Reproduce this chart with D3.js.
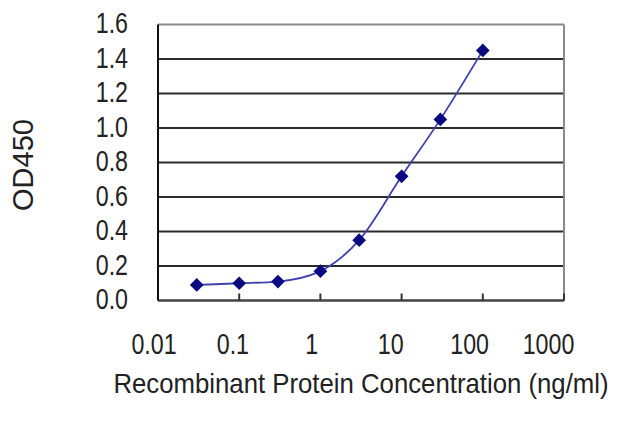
<!DOCTYPE html>
<html>
<head>
<meta charset="utf-8">
<script src="https://cdn.jsdelivr.net/npm/d3@7"></script>
<style>
  body { margin: 0; background: #fff; }
  text { fill: #222; font-family: "Liberation Sans", Arial, sans-serif; }
</style>
</head>
<body>
<div id="chart"></div>
<script>
// Data
const concentrations = [0.03, 0.1, 0.3, 1, 3, 10, 30, 100];
const odValues = [0.09, 0.10, 0.11, 0.17, 0.35, 0.72, 1.05, 1.45];
const xTicks = [0.01, 0.1, 1, 10, 100, 1000];
const xTickLabels = ['0.01', '0.1', '1', '10', '100', '1000'];
const yTicks = [0, 0.2, 0.4, 0.6, 0.8, 1.0, 1.2, 1.4, 1.6];

const width = 640, height = 427;
const plotLeft = 158, plotRight = 564, plotTop = 24.5, plotBottom = 300.5;
const squeeze = 0.8; // the original's tick font is tall and narrow

const svg = d3.select('#chart')
  .append('svg')
  .attr('width', width)
  .attr('height', height);

const x = d3.scaleLog().domain([0.01, 1000]).range([plotLeft, plotRight]);
const y = d3.scaleLinear().domain([0, 1.6]).range([plotBottom, plotTop]);

// horizontal grid lines
svg.selectAll('line.grid')
  .data(yTicks.filter(d => d > 0 && d < 1.6))
  .enter()
  .append('line')
  .attr('class', 'grid')
  .attr('x1', plotLeft).attr('x2', plotRight)
  .attr('y1', d => y(d)).attr('y2', d => y(d))
  .attr('stroke', '#2a2a2a')
  .attr('stroke-width', 2);

// frame: grey top/right, dark left/bottom
svg.append('line')
  .attr('x1', plotLeft).attr('x2', plotRight).attr('y1', plotTop).attr('y2', plotTop)
  .attr('stroke', '#8a8a8a').attr('stroke-width', 2);
svg.append('line')
  .attr('x1', plotRight).attr('x2', plotRight).attr('y1', plotTop).attr('y2', plotBottom)
  .attr('stroke', '#8a8a8a').attr('stroke-width', 2);
svg.append('line')
  .attr('x1', plotLeft).attr('x2', plotRight).attr('y1', plotBottom).attr('y2', plotBottom)
  .attr('stroke', '#444').attr('stroke-width', 2.5);
svg.append('line')
  .attr('x1', plotLeft).attr('x2', plotLeft).attr('y1', plotTop).attr('y2', plotBottom)
  .attr('stroke', '#111').attr('stroke-width', 2);

// x ticks pointing up into the plot
svg.selectAll('line.xtick')
  .data(xTicks.slice(1))
  .enter()
  .append('line')
  .attr('class', 'xtick')
  .attr('x1', d => x(d)).attr('x2', d => x(d))
  .attr('y1', plotBottom).attr('y2', plotBottom - 7)
  .attr('stroke', '#333').attr('stroke-width', 2);

// y tick labels
svg.selectAll('text.ylab')
  .data(yTicks)
  .enter()
  .append('text')
  .attr('class', 'ylab')
  .attr('transform', d => `translate(128,${y(d) + 1}) scale(${squeeze},1)`)
  .attr('text-anchor', 'end')
  .attr('dominant-baseline', 'middle')
  .style('font-size', '29px')
  .text(d => d.toFixed(1));

// x tick labels
svg.selectAll('text.xlab')
  .data(xTicks)
  .enter()
  .append('text')
  .attr('class', 'xlab')
  .attr('transform', (d, i) => `translate(${x(d) - 4 - i * 2.3},346) scale(${squeeze},1)`)
  .attr('text-anchor', 'middle')
  .attr('dominant-baseline', 'middle')
  .style('font-size', '29px')
  .text((d, i) => xTickLabels[i]);

// axis titles
svg.append('text')
  .attr('transform', `translate(${(plotLeft + plotRight) / 2},393) scale(0.92,1)`)
  .attr('text-anchor', 'middle')
  .style('font-size', '28px')
  .text('Recombinant Protein Concentration (ng/ml)');

svg.append('text')
  .attr('transform', 'translate(33,165) rotate(-90)')
  .attr('text-anchor', 'middle')
  .style('font-size', '29px')
  .text('OD450');

// fitted curve
const points = concentrations.map((c, i) => [x(c), y(odValues[i])]);
svg.append('path')
  .datum(points)
  .attr('d', d3.line().curve(d3.curveMonotoneX))
  .attr('fill', 'none')
  .attr('stroke', '#4040b0')
  .attr('stroke-width', 1.8);

// diamond markers
svg.selectAll('path.marker')
  .data(points)
  .enter()
  .append('path')
  .attr('class', 'marker')
  .attr('d', d3.symbol().type(d3.symbolDiamond2).size(120))
  .attr('transform', d => `translate(${d[0]},${d[1]})`)
  .attr('fill', '#0a0a80');
</script>
</body>
</html>
